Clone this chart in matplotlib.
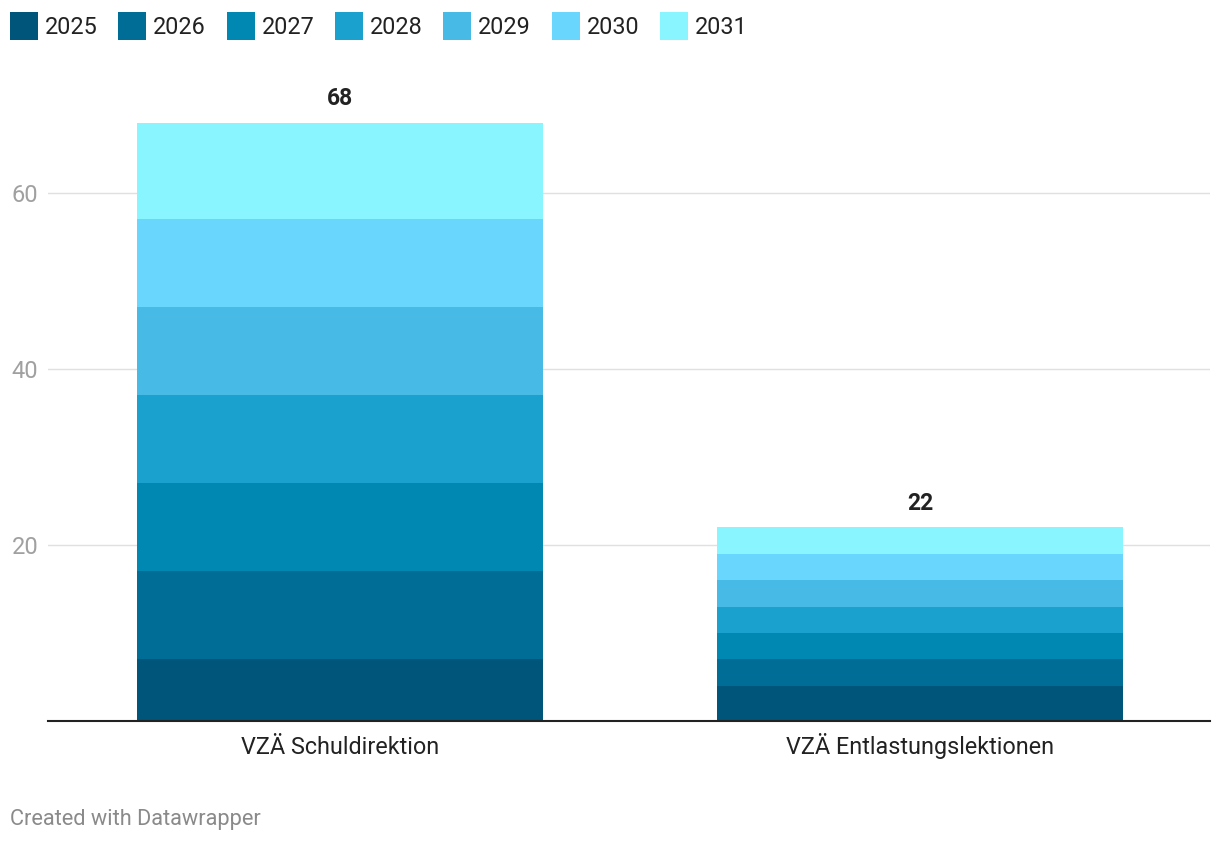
import matplotlib
matplotlib.use("Agg")
import matplotlib.pyplot as plt
from matplotlib.patches import Rectangle

plt.rcParams['font.family'] = ['Roboto', 'DejaVu Sans']

categories = ["VZÄ Schuldirektion", "VZÄ Entlastungslektionen"]
years = ["2025", "2026", "2027", "2028", "2029", "2030", "2031"]
values = {
    "2025": [7, 4],
    "2026": [10, 3],
    "2027": [10, 3],
    "2028": [10, 3],
    "2029": [10, 3],
    "2030": [10, 3],
    "2031": [11, 3],
}
colors = ["#00557a", "#006d96", "#0088b3", "#1aa1ce", "#47bae6", "#69d6fe", "#88f5ff"]
yticks = [20, 40, 60]

W, H = 1220, 844
fig = plt.figure(figsize=(W / 100, H / 100), dpi=100)
# axes in pixel terms: x 48..1210, baseline at y=721
px_unit = 8.8
base = 721
ax_left, ax_right = 48 / W, 1210 / W
ax_bottom = (H - base) / H
ymax = 75
ax_top = (H - (base - ymax * px_unit)) / H
ax = fig.add_axes([ax_left, ax_bottom, ax_right - ax_left, ax_top - ax_bottom])

x = [0, 1]
bottoms = [0, 0]
for yr, c in zip(years, colors):
    v = values[yr]
    ax.bar(x, v, width=0.7, bottom=bottoms, color=c, zorder=2, linewidth=0)
    bottoms = [b + vv for b, vv in zip(bottoms, v)]

for xi, tot in zip(x, bottoms):
    ax.text(xi, tot + 24 / px_unit, str(tot), ha='center', va='center', fontsize=16.5,
            fontweight='bold', color='#222222')

# category labels on a common baseline
for xi, lab in zip(x, categories):
    ax.text(xi, -(754 - base) / px_unit, lab, ha='center', va='baseline',
            fontsize=16.8, color='#222222', clip_on=False)

ax.set_xlim(-0.503, 1.5)
ax.set_ylim(0, ymax)
ax.set_yticks(yticks)
ax.set_xticks([])
ax.yaxis.grid(True, color='#e0e0e0', linewidth=1, zorder=0)
ax.set_axisbelow(True)
for s in ['top', 'right', 'left']:
    ax.spines[s].set_visible(False)
ax.spines['bottom'].set_color('#222222')
ax.spines['bottom'].set_linewidth(1.5)
ax.tick_params(axis='y', length=0, labelsize=17, labelcolor='#a0a0a0', pad=7)

# legend drawn manually
lx = 10
for yr, c in zip(years, colors):
    fig.add_artist(Rectangle((lx / W, (H - 40) / H), 28 / W, 28 / H,
                             transform=fig.transFigure, color=c, linewidth=0))
    fig.text((lx + 35) / W, (H - 34) / H, yr, fontsize=16.8, color='#222222',
             va='baseline', ha='left')
    lx += 108.3

fig.text(10 / W, (H - 825) / H, "Created with Datawrapper", fontsize=15.7,
         color='#8a8a8a', va='baseline', ha='left')

fig.savefig("out.png", dpi=100)
